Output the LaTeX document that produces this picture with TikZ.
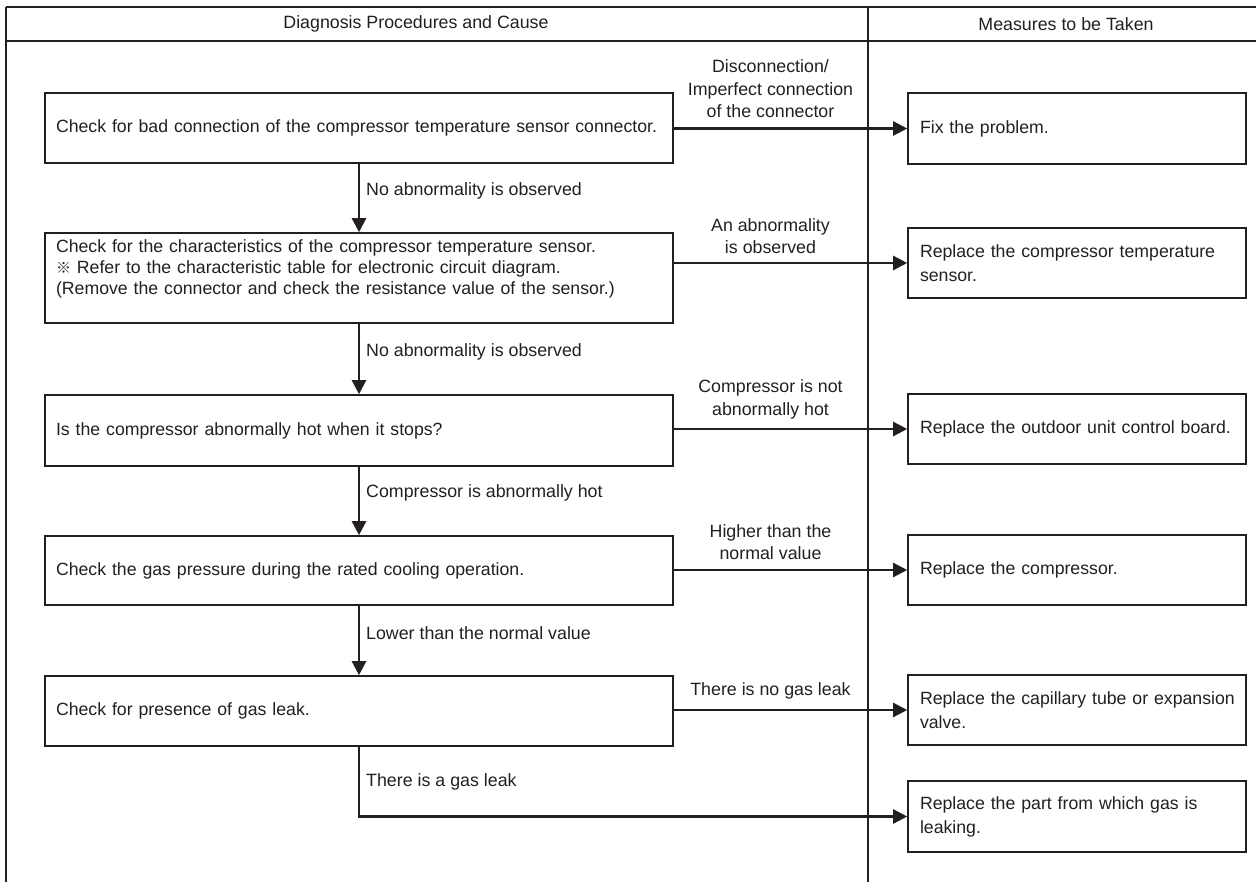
\documentclass[tikz,border=0pt]{standalone}
\usepackage{fontspec}
\setmainfont{Liberation Sans}
\newfontfamily\cjk{Noto Sans CJK JP}
\usetikzlibrary{arrows.meta}
\definecolor{ink}{HTML}{231F20}
\begin{document}
\begin{tikzpicture}[x=1pt,y=-1pt,
  every node/.style={font=\fontsize{17.8}{22}\selectfont, text=ink},
  lbox/.style={draw=ink, line width=1.6pt, rectangle, text width=606pt, inner xsep=11pt, inner ysep=0pt, align=left, minimum height=70pt, font=\fontsize{17.7}{21}\selectfont},
  rbox/.style={draw=ink, line width=1.6pt, rectangle, text width=314pt, inner xsep=12pt, inner ysep=0pt, align=left, minimum height=70pt, font=\fontsize{17.7}{24}\selectfont},
  arr/.style={draw=ink, line width=2.4pt, -{Triangle[length=14pt,width=14pt]}},
  frame/.style={draw=ink, line width=1.6pt},
  vlab/.style={anchor=west, inner sep=0pt},
  hlab/.style={anchor=south, inner sep=0pt, align=center, font=\fontsize{17.8}{22.5}\selectfont},
  head/.style={inner sep=0pt}
]
\useasboundingbox (0,0) rectangle (1256,882);
% frame
\draw[frame, line width=2pt] (1256,7) -- (6,7);
\draw[frame] (6,7) -- (6,882);
\draw[frame] (6,41) -- (1256,41);
\draw[frame] (868,7) -- (868,882);
\node[head] (h1) at (416,24) {Diagnosis Procedures and Cause};
\node[head] (h2) at (1066,24) {Measures to be Taken};
% left boxes
\node[lbox, minimum height=70pt] (L1) at (359,128) {\mbox{Check for bad connection of the compressor temperature sensor connector.}};
\node[lbox, minimum height=90pt] (L2) at (359,278) {\mbox{Check for the characteristics of the compressor temperature sensor.}\\\mbox{{\cjk\fontsize{15}{15}\selectfont ※} Refer to the characteristic table for electronic circuit diagram.}\\\mbox{(Remove the connector and check the resistance value of the sensor.)}\\\mbox{}};
\node[lbox, minimum height=71pt] (L3) at (359,430.5) {Is the compressor abnormally hot when it stops?};
\node[lbox, minimum height=69pt] (L4) at (359,570.5) {Check the gas pressure during the rated cooling operation.};
\node[lbox, minimum height=70pt] (L5) at (359,711) {Check for presence of gas leak.};
% right boxes
\node[rbox, minimum height=71pt] (R1) at (1077,128.5) {Fix the problem.};
\node[rbox] (R2) at (1077,263) {\mbox{Replace the compressor temperature}\\sensor.};
\node[rbox] (R3) at (1077,429) {\mbox{Replace the outdoor unit control board.}};
\node[rbox] (R4) at (1077,570) {Replace the compressor.};
\node[rbox] (R5) at (1077,710) {\mbox{Replace the capillary tube or expansion}\\valve.};
\node[rbox, minimum height=71pt] (R6) at (1077,816.5) {\mbox{Replace the part from which gas is}\\leaking.};
% vertical arrows
\draw[arr] (L1.south) -- (L2.north);
\draw[arr] (L2.south) -- (L3.north);
\draw[arr] (L3.south) -- (L4.north);
\draw[arr] (L4.south) -- (L5.north);
\draw[arr] (L5.south) |- (R6.west);
% horizontal arrows
\draw[arr] (L1.east |- R1.west) -- (R1.west);
\draw[arr] (L2.east |- R2.west) -- (R2.west);
\draw[arr] (L3.east |- R3.west) -- (R3.west);
\draw[arr] (L4.east |- R4.west) -- (R4.west);
\draw[arr] (L5.east |- R5.west) -- (R5.west);
% vertical labels
\node[vlab] (v1) at (366,191) {No abnormality is observed};
\node[vlab] (v2) at (366,352) {No abnormality is observed};
\node[vlab] (v3) at (366,493) {Compressor is abnormally hot};
\node[vlab] (v4) at (366,633) {Lower than the normal value};
\node[vlab] (v5) at (366,782) {There is a gas leak};
% horizontal labels
\node[hlab] (t1) at (770.5,118) {Disconnection/\\Imperfect connection\\of the connector};
\node[hlab] (t2) at (770.5,254) {An abnormality\\is observed};
\node[hlab] (t3) at (770.5,419) {Compressor is not\\abnormally hot};
\node[hlab] (t4) at (770.5,560) {Higher than the\\normal value};
\node[hlab] (t5) at (770.5,699) {There is no gas leak};
\end{tikzpicture}
\end{document}
